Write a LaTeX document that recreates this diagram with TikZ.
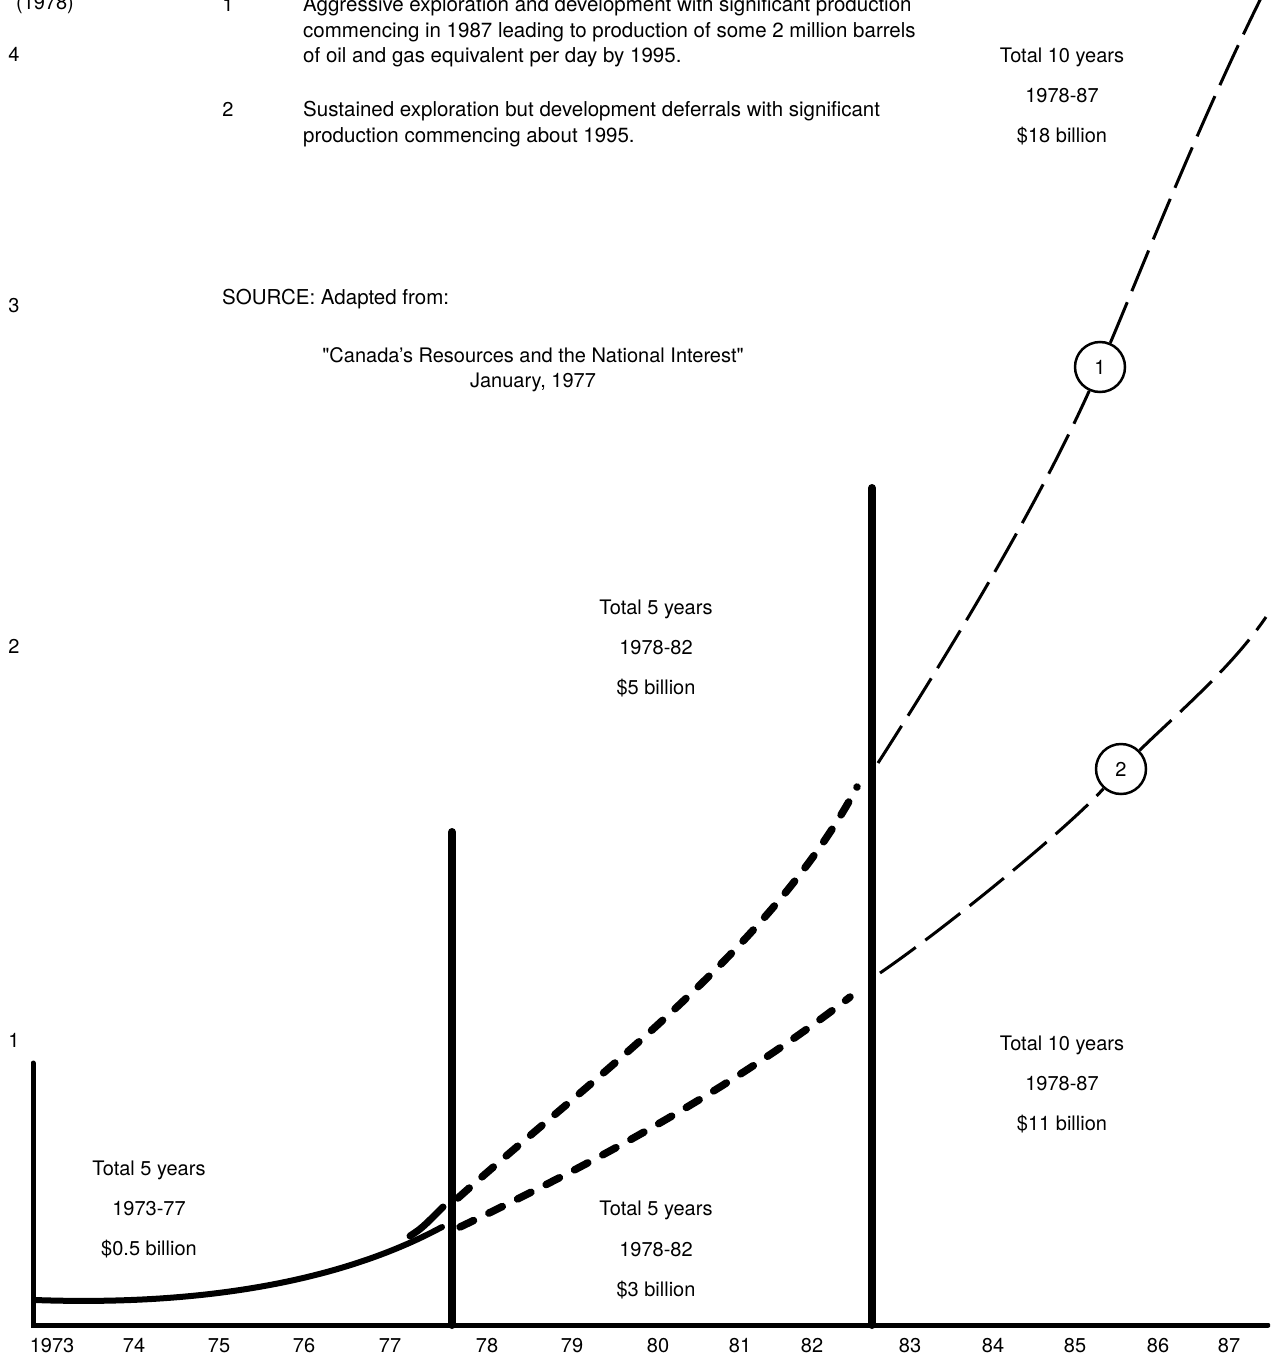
\documentclass[tikz,border=0pt]{standalone}
\usepackage{fontspec}
\setmainfont{TeX Gyre Heros}
\newfontfamily\qfont{TeX Gyre Heros}
\pgfdeclarelayer{bg}
\pgfsetlayers{bg,main}
\tikzset{
  lbl/.style={font=\fontsize{20}{24}\selectfont, inner sep=0pt, anchor=base},
  leg/.style={font=\fontsize{20.5}{24}\selectfont, inner sep=0pt, anchor=base west},
  axisline/.style={line width=5pt, line cap=round},
  barline/.style={line width=8pt, line cap=round},
  solidcurve/.style={line width=6pt, line cap=round},
  thickdash/.style={line width=7.5pt, line cap=round, dash pattern=on 15pt off 17pt},
  thindash/.style={line width=3pt, dash pattern=on 44pt off 12pt},
  circlbl/.style={circle, draw, line width=2.5pt, fill=white, minimum size=50pt, inner sep=0pt, font=\fontsize{20}{24}\selectfont}
}
\begin{document}
\begin{tikzpicture}[x=1pt,y=-1pt]
\clip (0,0) rectangle (1270,1359);

% axes and bars
\coordinate (o) at (33,1325);
\coordinate (ytop) at (33,1063);
\coordinate (xend) at (1268,1325);
\coordinate (b1top) at (452,832);
\coordinate (b1bot) at (452,1325);
\coordinate (b2top) at (872,488);
\coordinate (b2bot) at (872,1325);
\draw[axisline] (ytop) -- (o) -- (xend);
\draw[barline] (b1top) -- (b1bot);
\draw[barline] (b2top) -- (b2bot);

% y labels
\node[lbl] (y78) at (45,10) {(1978)};
\node[lbl] (y4) at (14,62) {4};
\node[lbl] (y3) at (14,312) {3};
\node[lbl] (y2) at (14,653) {2};
\node[lbl] (y1) at (14,1047) {1};

% x labels
\foreach \xx/\tt [count=\i] in {52/1973,134/74,219/75,304/76,390/77,487/78,572/79,658/80,740/81,812/82,910/83,993/84,1075/85,1158/86,1229/87}
  \node[lbl] (yr\i) at (\xx,1352) {\tt};

% legend
\node[lbl] (m1) at (228,12) {1};
\node[leg] (l1a) at (303,12) {Aggressive exploration and development with significant production};
\node[leg] (l1b) at (303,37.5) {commencing in 1987 leading to production of some 2 million barrels};
\node[leg] (l1c) at (303,63) {of oil and gas equivalent per day by 1995.};
\node[lbl] (m2) at (228,117) {2};
\node[leg] (l2a) at (303,117) {Sustained exploration but development deferrals with significant};
\node[leg] (l2b) at (303,142.5) {production commencing about 1995.};

% source
\node[leg] (src) at (222,304) {SOURCE: Adapted from:};
\node[lbl] (src2) at (533,362) {{\qfont"}Canada's Resources and the National Interest{\qfont"}};
\node[lbl] (src3) at (533,387) {January, 1977};

% totals
\node[lbl] (t18a) at (1062,63) {Total 10 years};
\node[lbl] (t18b) at (1062,103) {1978-87};
\node[lbl] (t18c) at (1062,143) {\$18 billion};

\node[lbl] (t5a) at (656,614) {Total 5 years};
\node[lbl] (t5b) at (656,654) {1978-82};
\node[lbl] (t5c) at (656,694) {\$5 billion};

\node[lbl] (t11a) at (1062,1050) {Total 10 years};
\node[lbl] (t11b) at (1062,1090) {1978-87};
\node[lbl] (t11c) at (1062,1130) {\$11 billion};

\node[lbl] (t05a) at (149,1175) {Total 5 years};
\node[lbl] (t05b) at (149,1215) {1973-77};
\node[lbl] (t05c) at (149,1255) {\$0.5 billion};

\node[lbl] (t3a) at (656,1215) {Total 5 years};
\node[lbl] (t3b) at (656,1256) {1978-82};
\node[lbl] (t3c) at (656,1296) {\$3 billion};

% circle labels
\node[circlbl] (c1) at (1100,367) {1};
\node[circlbl] (c2) at (1121,769) {2};

% curve end points
\coordinate (s0) at (35,1300);
\coordinate (s1) at (442,1227);
\coordinate (k0) at (410,1236);
\coordinate (k1) at (443,1207);
\coordinate (u0) at (458,1198);
\coordinate (u1) at (857,787);
\coordinate (w0) at (460,1227);
\coordinate (w1) at (850,997);
\coordinate (p0) at (878,763);
\coordinate (p1) at (1264,-8);
\coordinate (q0) at (880,973);
\coordinate (q1) at (1266,617);

\begin{pgfonlayer}{bg}
% solid historical curve
\draw[solidcurve] (s0) .. controls (200,1306) and (340,1282) .. (s1);
\draw[line width=7pt, line cap=round] (k0) .. controls (422,1228) .. (k1);

% thick dashed 1978-82
\draw[thickdash] (u0) .. controls (590,1080) and (770,950) .. (u1);
\draw[thickdash] (w0) .. controls (590,1165) and (730,1090) .. (w1);

% thin dashed after 1982
\draw[thindash] (p0) .. controls (960,635) and (1040,500) .. (c1);
\draw[thindash] (c1) .. controls (1135,285) and (1200,120) .. (p1);
\draw[thindash] (q0) .. controls (950,925) and (1070,826) .. (c2);
\draw[thindash] (c2) .. controls (1170,720) and (1230,670) .. (q1);
\end{pgfonlayer}
\end{tikzpicture}
\end{document}
